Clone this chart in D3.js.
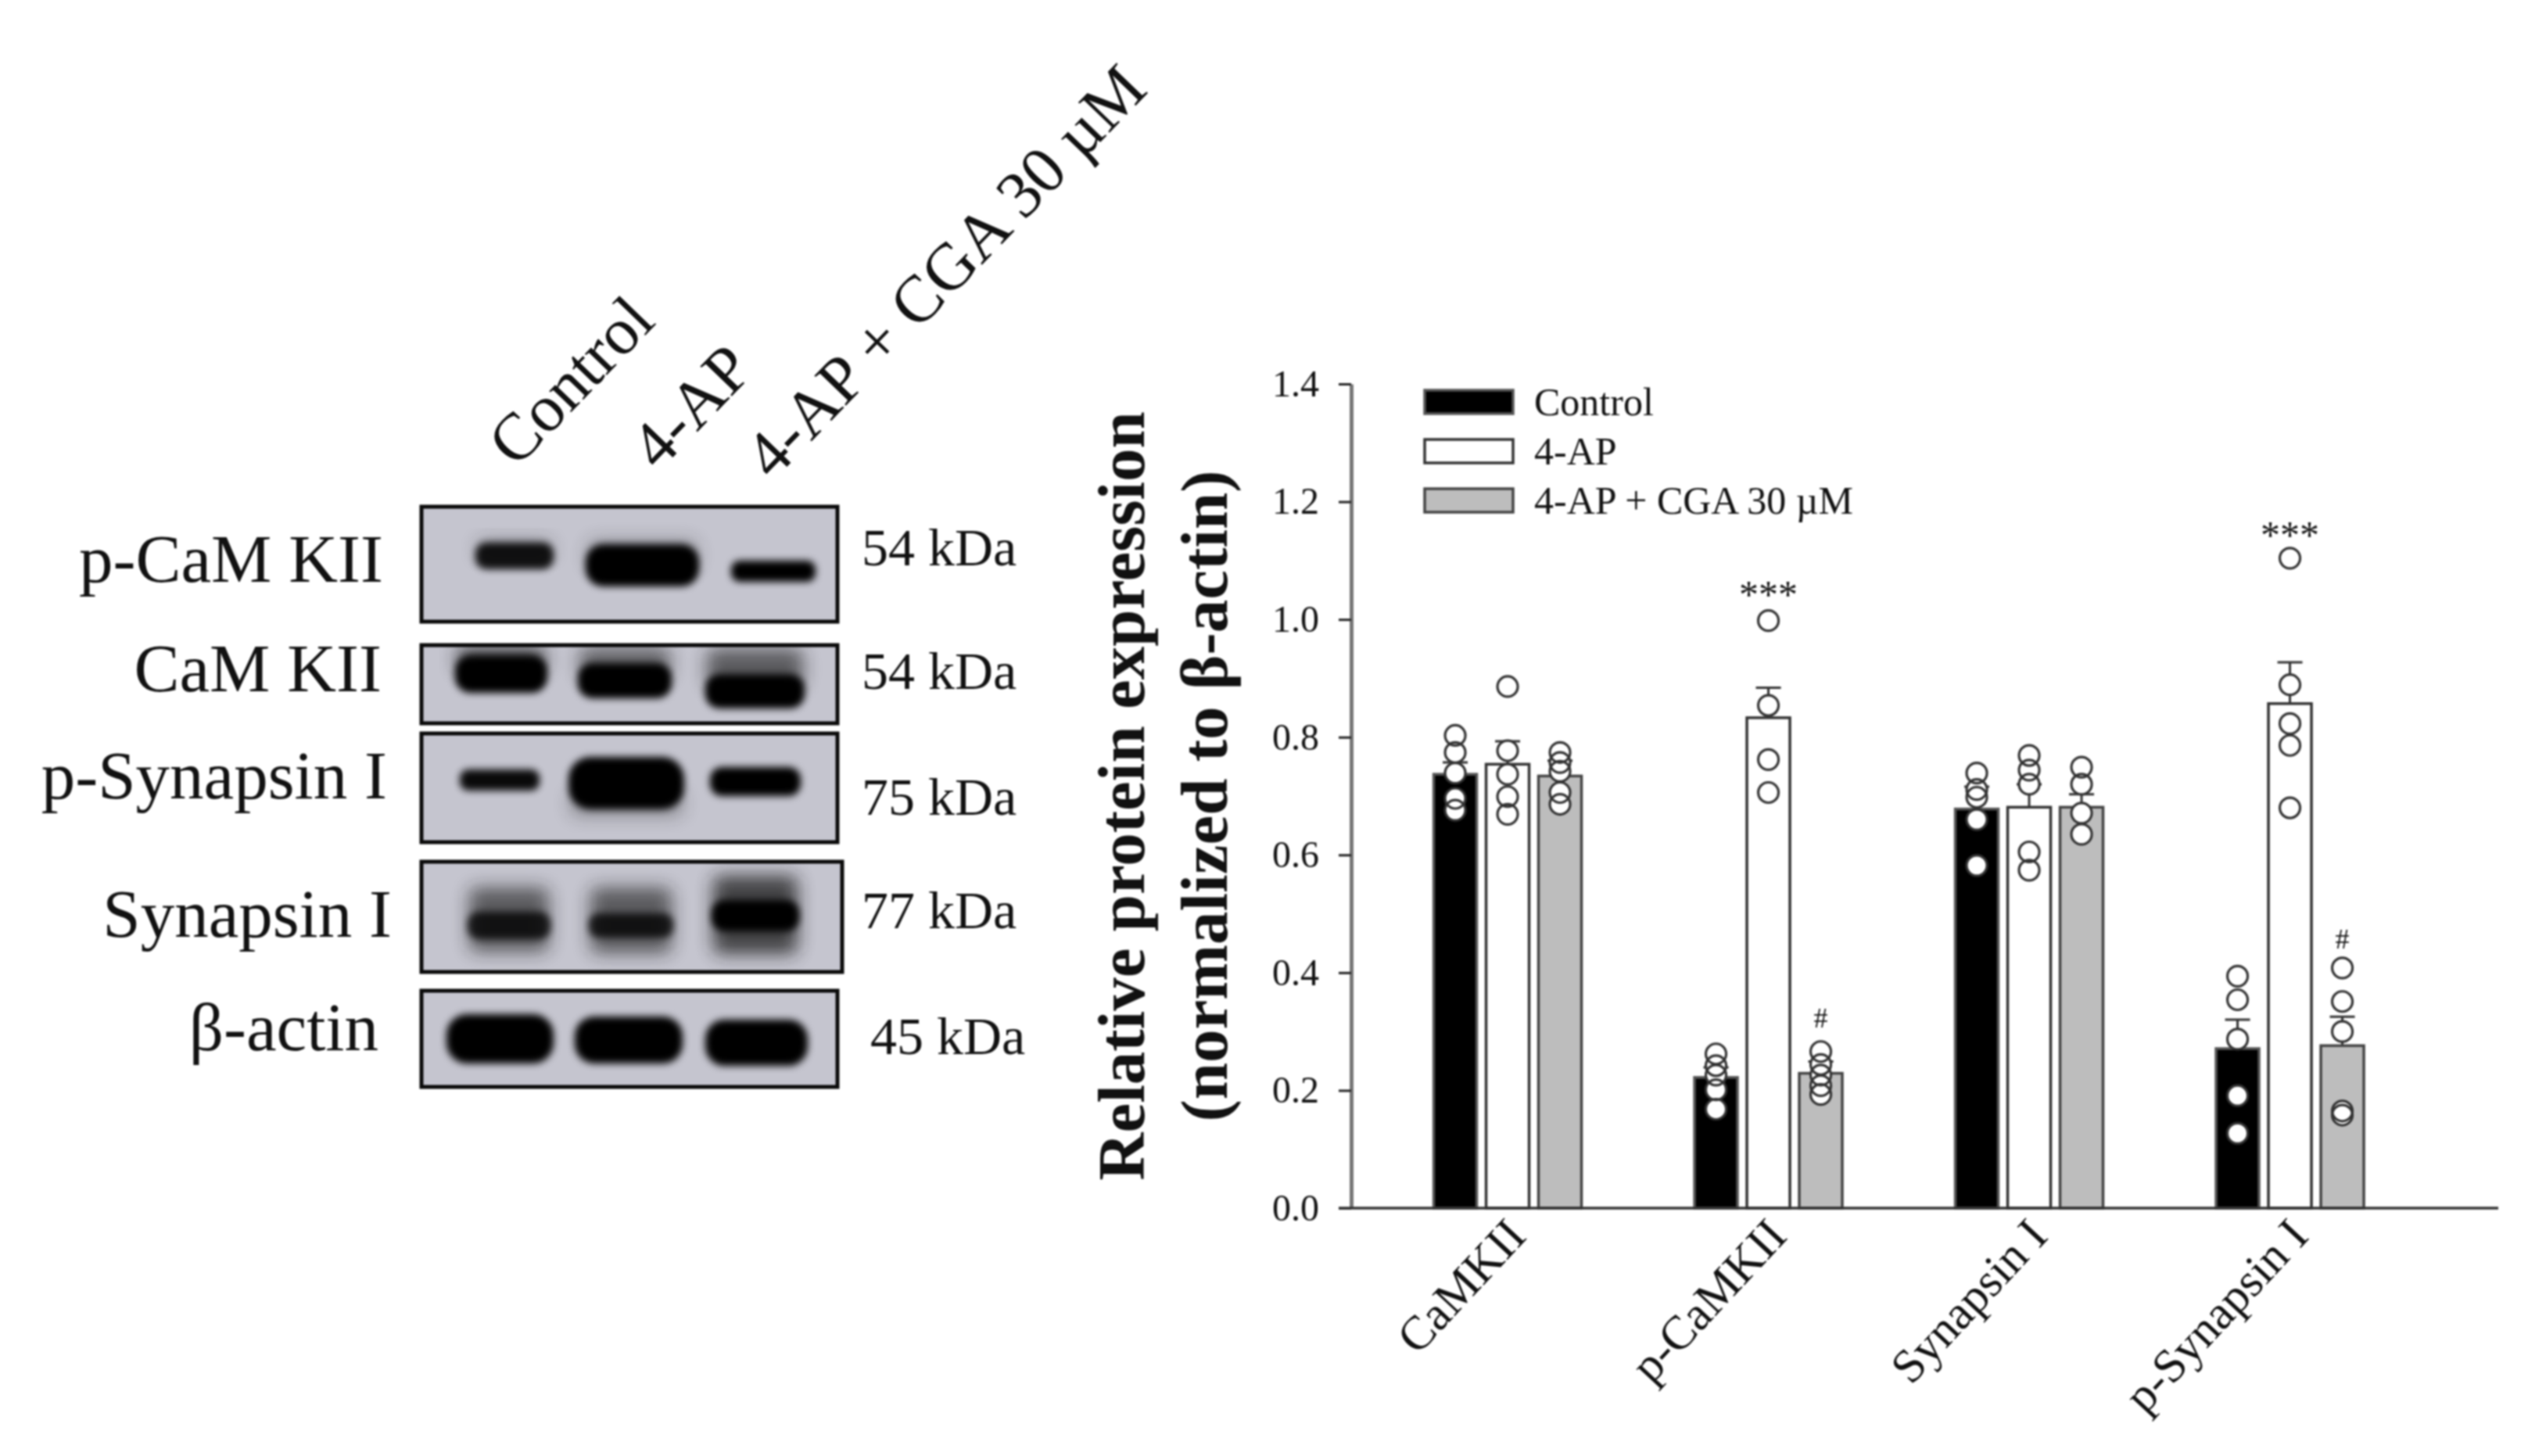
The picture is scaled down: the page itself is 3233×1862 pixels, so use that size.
<!DOCTYPE html>
<html><head><meta charset="utf-8">
<style>html,body{margin:0;padding:0;background:#fff}svg{display:block;filter:blur(0.8px)}text{font-family:"Liberation Serif",serif;fill:#111}</style>
<script src="https://cdn.jsdelivr.net/npm/d3@7"></script></head><body>
<svg id="c" width="3233" height="1862"></svg>
<script>
// ---------- data ----------
const categories = ["CaMKII","p-CaMKII","Synapsin I","p-Synapsin I"];
const series = ["Control","4-AP","4-AP + CGA 30 µM"];
const yTicks = [0,0.2,0.4,0.6,0.8,1.0,1.2,1.4];
const meanControl = [0.737,0.222,0.678,0.271];
const mean4AP     = [0.754,0.833,0.681,0.857];
const meanCGA     = [0.734,0.229,0.681,0.276];
const semControl = [0.020,0.017,0.038,0.049];
const sem4AP     = [0.039,0.051,0.039,0.070];
const semCGA     = [0.026,0.020,0.022,0.049];
const ptsControl = [[0.803,0.774,0.739,0.696,0.676],[0.262,0.242,0.226,0.201,0.168],[0.739,0.711,0.698,0.660,0.582],[0.394,0.354,0.287,0.191,0.127]];
const pts4AP     = [[0.886,0.777,0.737,0.699,0.669],[0.998,0.854,0.762,0.706],[0.769,0.744,0.720,0.605,0.574],[1.104,0.889,0.823,0.786,0.680]];
const ptsCGA     = [[0.774,0.757,0.742,0.706,0.686],[0.266,0.244,0.226,0.208,0.193],[0.749,0.720,0.671,0.635],[0.408,0.351,0.300,0.165,0.158]];
const marks = [["p-CaMKII","4-AP",1.054,"***"],["p-Synapsin I","4-AP",1.155,"***"],["p-CaMKII","4-AP + CGA 30 µM",0.324,"#"],["p-Synapsin I","4-AP + CGA 30 µM",0.458,"#"]];
const blotRows = ["p-CaM KII","CaM KII","p-Synapsin I","Synapsin I","β-actin"];
const blotWeights = ["54 kDa","54 kDa","75 kDa","77 kDa","45 kDa"];
const blotLanes = ["Control","4-AP","4-AP + CGA 30 µM"];
// band density per row and lane (0-1), read from the blot
const bandDensity = [[0.9,1,1],[1,1,1],[0.95,1,1],[0.8,0.8,1],[1,1,1]];
const smearDensity = [[0.35,0.3,0],[0.7,0.6,0.65],[0,0.35,0],[0.65,0.65,0.8],[0,0,0]];

// ---------- layout ----------
const svg = d3.select("#c");
const L = {axisX:1728, axisEnd:3195, y0:1545, y1:491, bandL:1761.3, bandR:3095.3};
const y = d3.scaleLinear().domain([0,1.4]).range([L.y0,L.y1]);
const x0 = d3.scaleBand().domain(categories).range([L.bandL,L.bandR]);
const x1 = d3.scaleBand().domain(series).range([72.25,261.25]).paddingInner(12/67);
const fills = d3.scaleOrdinal().domain(series).range(["#000","#fff","#bdbdbd"]);
const strokes = d3.scaleOrdinal().domain(series).range(["#555","#333","#444"]);
const means=[meanControl,mean4AP,meanCGA], sems=[semControl,sem4AP,semCGA], pts=[ptsControl,pts4AP,ptsCGA];
const rows = categories.flatMap((c,i)=>series.map((s,j)=>({c,s,m:means[j][i],e:sems[j][i],p:pts[j][i]})));
const cx = d => x0(d.c)+x1(d.s)+x1.bandwidth()/2;

// error bars first, then bars, then points
const g = svg.append("g");
g.selectAll(".stem").data(rows).join("line").attr("x1",cx).attr("x2",cx).attr("y1",d=>y(d.m)).attr("y2",d=>y(d.m+d.e)).attr("stroke","#333").attr("stroke-width",3);
g.selectAll(".cap").data(rows).join("line").attr("x1",d=>cx(d)-16).attr("x2",d=>cx(d)+16).attr("y1",d=>y(d.m+d.e)).attr("y2",d=>y(d.m+d.e)).attr("stroke","#333").attr("stroke-width",3);
g.selectAll(".bar").data(rows).join("rect").attr("x",d=>x0(d.c)+x1(d.s)).attr("width",x1.bandwidth()).attr("y",d=>y(d.m)).attr("height",d=>y(0)-y(d.m))
  .attr("fill",d=>fills(d.s)).attr("stroke",d=>strokes(d.s)).attr("stroke-width",3.5);
const allPts = rows.flatMap(d=>d.p.map(v=>({x:cx(d),v})));
g.selectAll(".pf").data(allPts).join("circle").attr("cx",d=>d.x).attr("cy",d=>y(d.v)).attr("r",13).attr("fill","#fff");
g.selectAll(".ps").data(allPts).join("circle").attr("cx",d=>d.x).attr("cy",d=>y(d.v)).attr("r",13).attr("fill","none").attr("stroke","#333").attr("stroke-width",3.2);

// axes
const yAxis = svg.append("g").attr("transform",`translate(${L.axisX},0)`).call(d3.axisLeft(y).tickValues(yTicks).tickFormat(d3.format(".1f")).tickSize(16).tickSizeOuter(0).tickPadding(25));
yAxis.select(".domain").attr("stroke","#777").attr("stroke-width",5);
yAxis.selectAll(".tick line").attr("stroke","#222").attr("stroke-width",3);
yAxis.selectAll("text").attr("font-size",48).attr("font-family","Liberation Serif").attr("fill","#222");
svg.append("line").attr("x1",L.axisX-16).attr("x2",L.axisEnd).attr("y1",y(0)).attr("y2",y(0)).attr("stroke","#333").attr("stroke-width",3.5);
const xAxis = svg.append("g").attr("transform",`translate(0,${L.y0})`).call(d3.axisBottom(x0).tickSize(0));
xAxis.select(".domain").remove();
xAxis.selectAll("text").attr("font-size",61).attr("font-family","Liberation Serif").attr("fill","#111")
  .attr("text-anchor","end").attr("dy",0).attr("y",0).attr("transform","translate(26,38) rotate(-47)");

// y title
const t = svg.append("g").attr("font-weight","bold").attr("text-anchor","middle").attr("font-size",85);
t.append("text").attr("transform","translate(1463,1018) rotate(-90)").text("Relative protein expression");
t.append("text").attr("transform","translate(1569,1018) rotate(-90)").text("(normalized to β-actin)");

// legend
const legY = d3.scalePoint().domain(series).range([514,640]);
const leg = svg.append("g").selectAll("g").data(series).join("g").attr("transform",d=>`translate(1822,${legY(d)})`);
leg.append("rect").attr("y",-15).attr("width",113).attr("height",30).attr("fill",d=>fills(d)).attr("stroke",d=>strokes(d)).attr("stroke-width",3.5);
leg.append("text").attr("x",140).attr("y",17).attr("font-size",50).text(d=>d);

// significance marks
svg.append("g").selectAll("text").data(marks).join("text").attr("text-anchor","middle")
  .attr("x",d=>x0(d[0])+x1(d[1])+x1.bandwidth()/2).attr("y",d=>y(d[2])+(d[3]==="#"?13:26))
  .attr("font-size",d=>d[3]==="#"?36:50).attr("fill","#444").text(d=>d[3]);

// ---------- western blot ----------
const defs = svg.append("defs");
const blur = (id,s)=>defs.append("filter").attr("id",id).attr("x","-30%").attr("y","-60%").attr("width","160%").attr("height","220%").append("feGaussianBlur").attr("stdDeviation",s);
blur("b1",5); blur("b2",11);
const boxes = [[539,648,1071,795],[539,825,1071,925],[539,938,1071,1077],[539,1102,1077,1243],[539,1267,1071,1390]];
// lane x-extent and band y-extent read from the film
const bandX = [[[608,708],[749,894],[935,1043]],[[582,700],[739,859],[902,1029]],[[588,690],[727,875],[908,1024]],[[598,704],[753,861],[910,1022]],[[571,708],[735,873],[902,1033]]];
const bandY = [[[698,724],[700,746],[721,740]],[[842,882],[852,889],[866,902]],[[988,1007],[972,1031],[985,1014]],[[1170,1197],[1172,1195],[1155,1187]],[[1301,1356],[1304,1356],[1308,1359]]];
const smearY = [[[690,715],[690,730],[718,742]],[[826,860],[828,868],[830,880]],[[987,1008],[1010,1044],[983,1015]],[[1135,1217],[1135,1219],[1120,1220]],[[1301,1356],[1304,1356],[1308,1359]]];
boxes.forEach((b,i)=>{
  const id="clip"+i;
  defs.append("clipPath").attr("id",id).append("rect").attr("x",b[0]).attr("y",b[1]).attr("width",b[2]-b[0]).attr("height",b[3]-b[1]);
  const box = svg.append("g").attr("clip-path",`url(#${id})`);
  box.append("rect").attr("x",b[0]).attr("y",b[1]).attr("width",b[2]-b[0]).attr("height",b[3]-b[1]).attr("fill","#c5c5cf");
  blotLanes.forEach((l,j)=>{
    const [xa,xb]=bandX[i][j];
    if(smearDensity[i][j]>0){
      const [sa,sb]=smearY[i][j];
      box.append("rect").attr("x",xa+2).attr("width",xb-xa-4).attr("y",sa).attr("height",sb-sa).attr("rx",10)
        .attr("fill","#222").attr("opacity",smearDensity[i][j]).attr("filter","url(#b2)");
    }
    const [ya,yb]=bandY[i][j];
    box.append("rect").attr("x",xa).attr("width",xb-xa).attr("y",ya-4).attr("height",yb-ya+8).attr("rx",Math.min(yb-ya+8,xb-xa)/2.4)
      .attr("fill","#000").attr("opacity",bandDensity[i][j]).attr("filter","url(#b1)");
  });
  svg.append("rect").attr("x",b[0]).attr("y",b[1]).attr("width",b[2]-b[0]).attr("height",b[3]-b[1]).attr("fill","none").attr("stroke","#0a0a0a").attr("stroke-width",5);
});
const rowBase=[744,884,1021,1198,1343], rowEnd=[490,488,495,501,484];
svg.append("g").selectAll("text").data(blotRows).join("text").attr("text-anchor","end").attr("x",(d,i)=>rowEnd[i]).attr("y",(d,i)=>rowBase[i]).attr("font-size",87).text(d=>d);
const kBase=[723,881,1042,1187,1348], kStart=[1102,1102,1102,1102,1113];
svg.append("g").selectAll("text").data(blotWeights).join("text").attr("x",(d,i)=>kStart[i]).attr("y",(d,i)=>kBase[i]).attr("font-size",68).text(d=>d);
// lane headers
const laneAnchor=[[660,600],[842,604],[988,616]];
svg.append("g").selectAll("text").data(blotLanes).join("text").attr("font-size",85)
  .attr("transform",(d,i)=>`translate(${laneAnchor[i][0]},${laneAnchor[i][1]}) rotate(-46)`).text(d=>d);
</script></body></html>
